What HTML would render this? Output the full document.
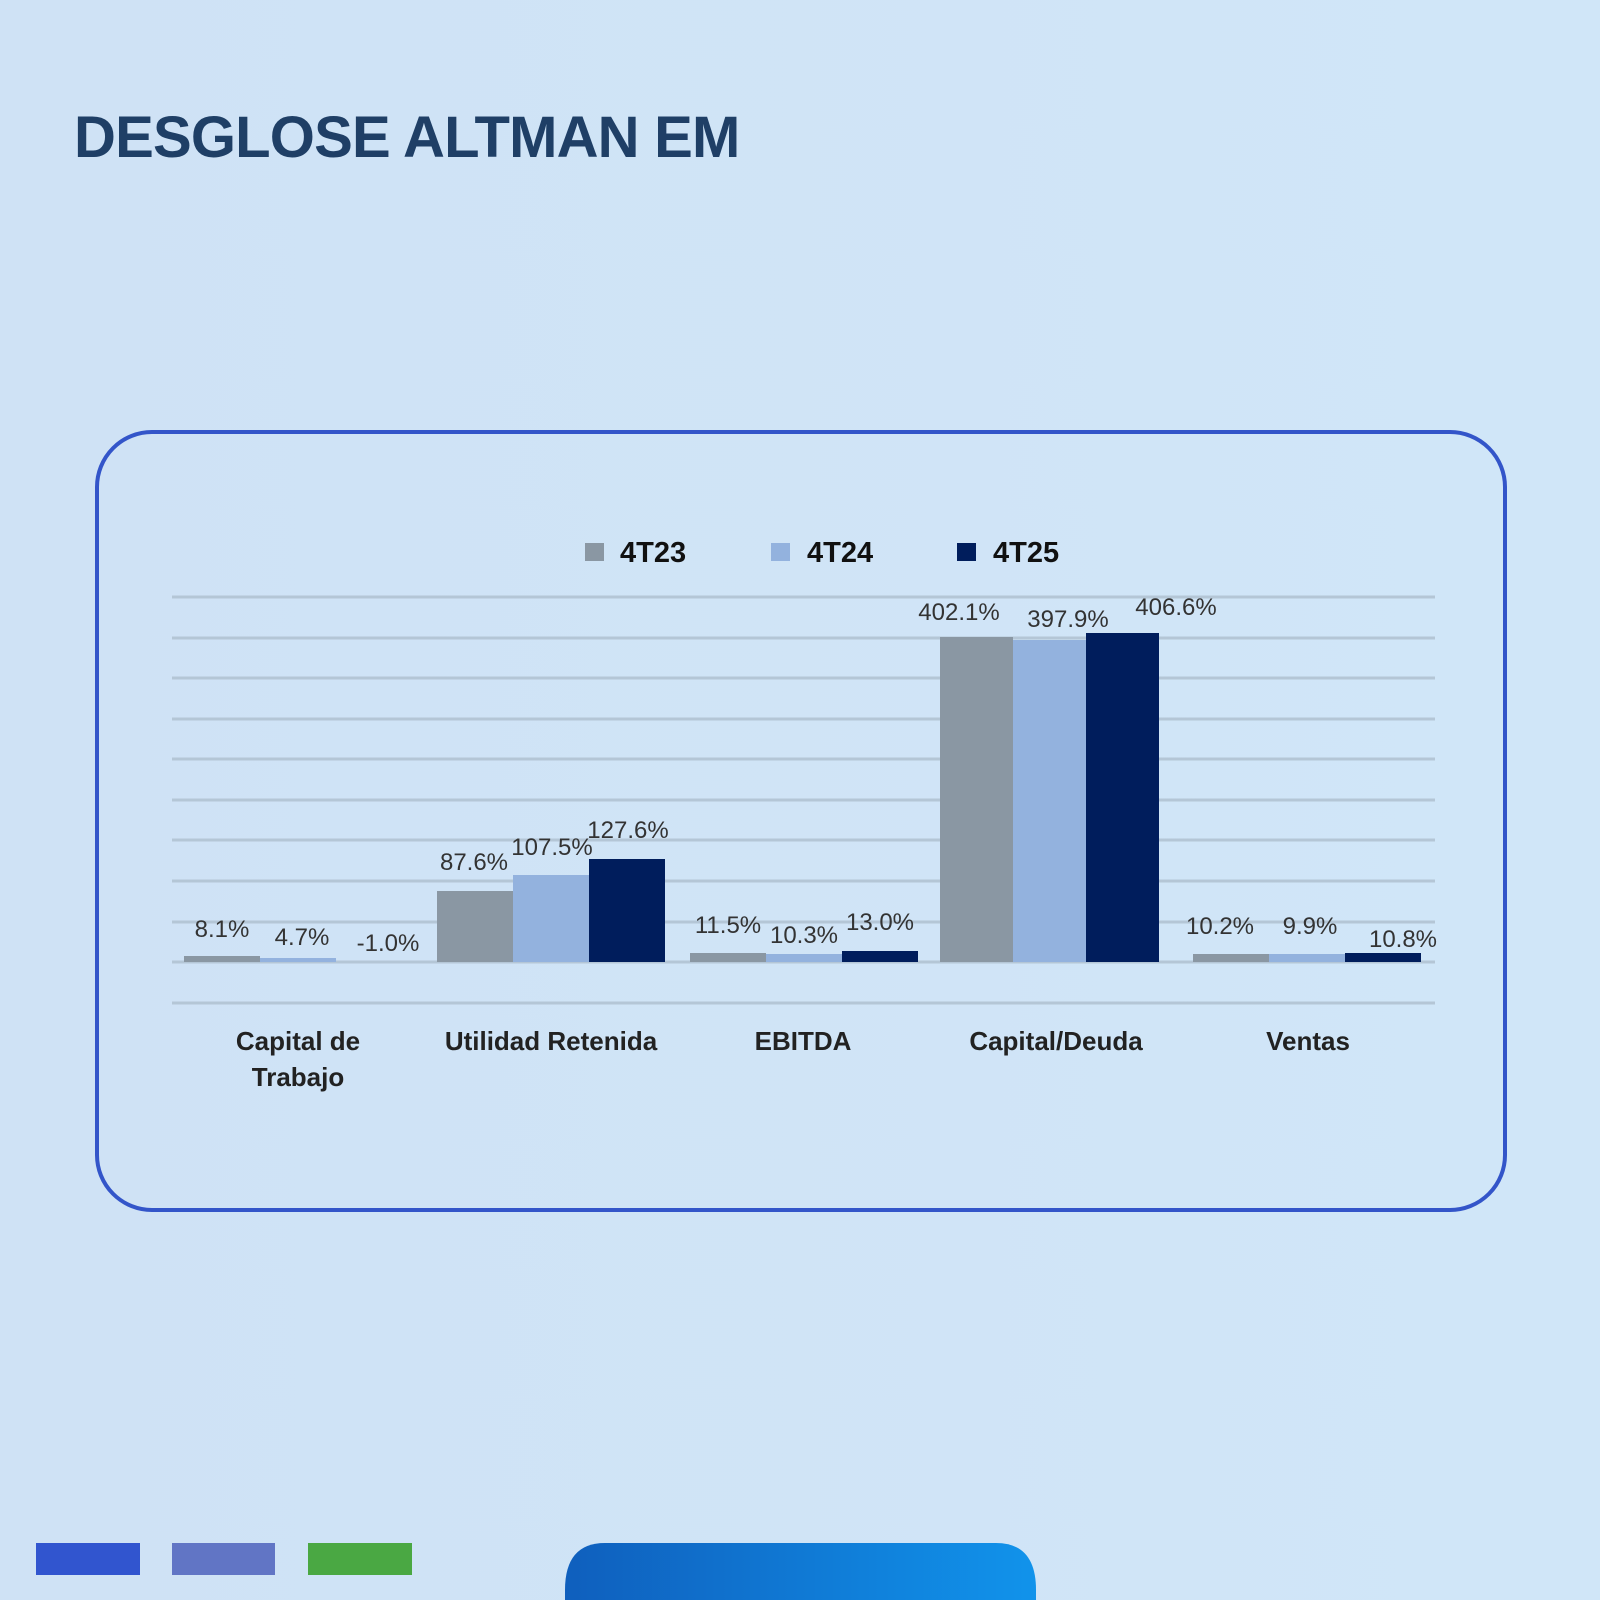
<!DOCTYPE html>
<html><head><meta charset="utf-8"><style>
html,body{margin:0;padding:0;width:1600px;height:1600px;overflow:hidden;background:#cfe3f6;}
svg{display:block}
</style></head><body>
<svg width="1600" height="1600" viewBox="0 0 1600 1600" xmlns="http://www.w3.org/2000/svg">
<defs>
<linearGradient id="bg" x1="0" y1="0" x2="1" y2="0"><stop offset="0" stop-color="#cfe2f5"/><stop offset="1" stop-color="#d0e6f8"/></linearGradient>
<linearGradient id="bt" x1="0" y1="0" x2="1" y2="0"><stop offset="0" stop-color="#0f5fbd"/><stop offset="1" stop-color="#1193eb"/></linearGradient>
</defs>
<rect width="1600" height="1600" fill="url(#bg)"/>
<text x="74" y="157" font-family="Liberation Sans, sans-serif" font-weight="bold" font-size="58" fill="#1f3f66" letter-spacing="-0.8">DESGLOSE ALTMAN EM</text>
<rect x="97" y="432" width="1408" height="778" rx="55" fill="none" stroke="#3355c9" stroke-width="4"/>
<g font-family="Liberation Sans, sans-serif" font-weight="bold" font-size="29" fill="#111">
<rect x="585" y="543" width="19" height="18" fill="#8a97a3"/><text x="620" y="562">4T23</text>
<rect x="771" y="543" width="19" height="18" fill="#93b2de"/><text x="807" y="562">4T24</text>
<rect x="957" y="543" width="19" height="18" fill="#001d5c"/><text x="993" y="562">4T25</text>
</g>
<g stroke="#b4c6d6" stroke-width="3">
<line x1="172" y1="597" x2="1435" y2="597"/><line x1="172" y1="638" x2="1435" y2="638"/>
<line x1="172" y1="678" x2="1435" y2="678"/><line x1="172" y1="719" x2="1435" y2="719"/>
<line x1="172" y1="759" x2="1435" y2="759"/><line x1="172" y1="800" x2="1435" y2="800"/>
<line x1="172" y1="840" x2="1435" y2="840"/><line x1="172" y1="881" x2="1435" y2="881"/>
<line x1="172" y1="922" x2="1435" y2="922"/><line x1="172" y1="962" x2="1435" y2="962"/>
<line x1="172" y1="1003" x2="1435" y2="1003"/>
</g>
<g>
<rect x="184" y="956" width="76" height="6" fill="#8a97a3"/>
<rect x="260" y="958" width="76" height="4" fill="#93b2de"/>
<rect x="437" y="891" width="76" height="71" fill="#8a97a3"/>
<rect x="513" y="875" width="76" height="87" fill="#93b2de"/>
<rect x="589" y="859" width="76" height="103" fill="#001d5c"/>
<rect x="690" y="953" width="76" height="9" fill="#8a97a3"/>
<rect x="766" y="954" width="76" height="8" fill="#93b2de"/>
<rect x="842" y="951" width="76" height="11" fill="#001d5c"/>
<rect x="940" y="637" width="73" height="325" fill="#8a97a3"/>
<rect x="1013" y="640" width="73" height="322" fill="#93b2de"/>
<rect x="1086" y="633" width="73" height="329" fill="#001d5c"/>
<rect x="1193" y="954" width="76" height="8" fill="#8a97a3"/>
<rect x="1269" y="954" width="76" height="8" fill="#93b2de"/>
<rect x="1345" y="953" width="76" height="9" fill="#001d5c"/>
</g>
<g font-family="Liberation Sans, sans-serif" font-size="24" fill="#333" text-anchor="middle">
<text x="222" y="937">8.1%</text><text x="302" y="945">4.7%</text><text x="388" y="951">-1.0%</text>
<text x="474" y="870">87.6%</text><text x="552" y="855">107.5%</text><text x="628" y="838">127.6%</text>
<text x="728" y="933">11.5%</text><text x="804" y="943">10.3%</text><text x="880" y="930">13.0%</text>
<text x="959" y="620">402.1%</text><text x="1068" y="627">397.9%</text><text x="1176" y="615">406.6%</text>
<text x="1220" y="934">10.2%</text><text x="1310" y="934">9.9%</text><text x="1403" y="947">10.8%</text>
</g>
<g font-family="Liberation Sans, sans-serif" font-size="26" font-weight="bold" fill="#222" text-anchor="middle">
<text x="298" y="1050">Capital de</text><text x="298" y="1086">Trabajo</text>
<text x="551" y="1050">Utilidad Retenida</text>
<text x="803" y="1050">EBITDA</text>
<text x="1056" y="1050">Capital/Deuda</text>
<text x="1308" y="1050">Ventas</text>
</g>
<rect x="36" y="1543" width="104" height="32" fill="#3155cf"/>
<rect x="172" y="1543" width="103" height="32" fill="#6175c5"/>
<rect x="308" y="1543" width="104" height="32" fill="#4aa843"/>
<path d="M565 1600 V1590 Q565 1543 605 1543 H996 Q1036 1543 1036 1590 V1600 Z" fill="url(#bt)"/>
</svg>
</body></html>
